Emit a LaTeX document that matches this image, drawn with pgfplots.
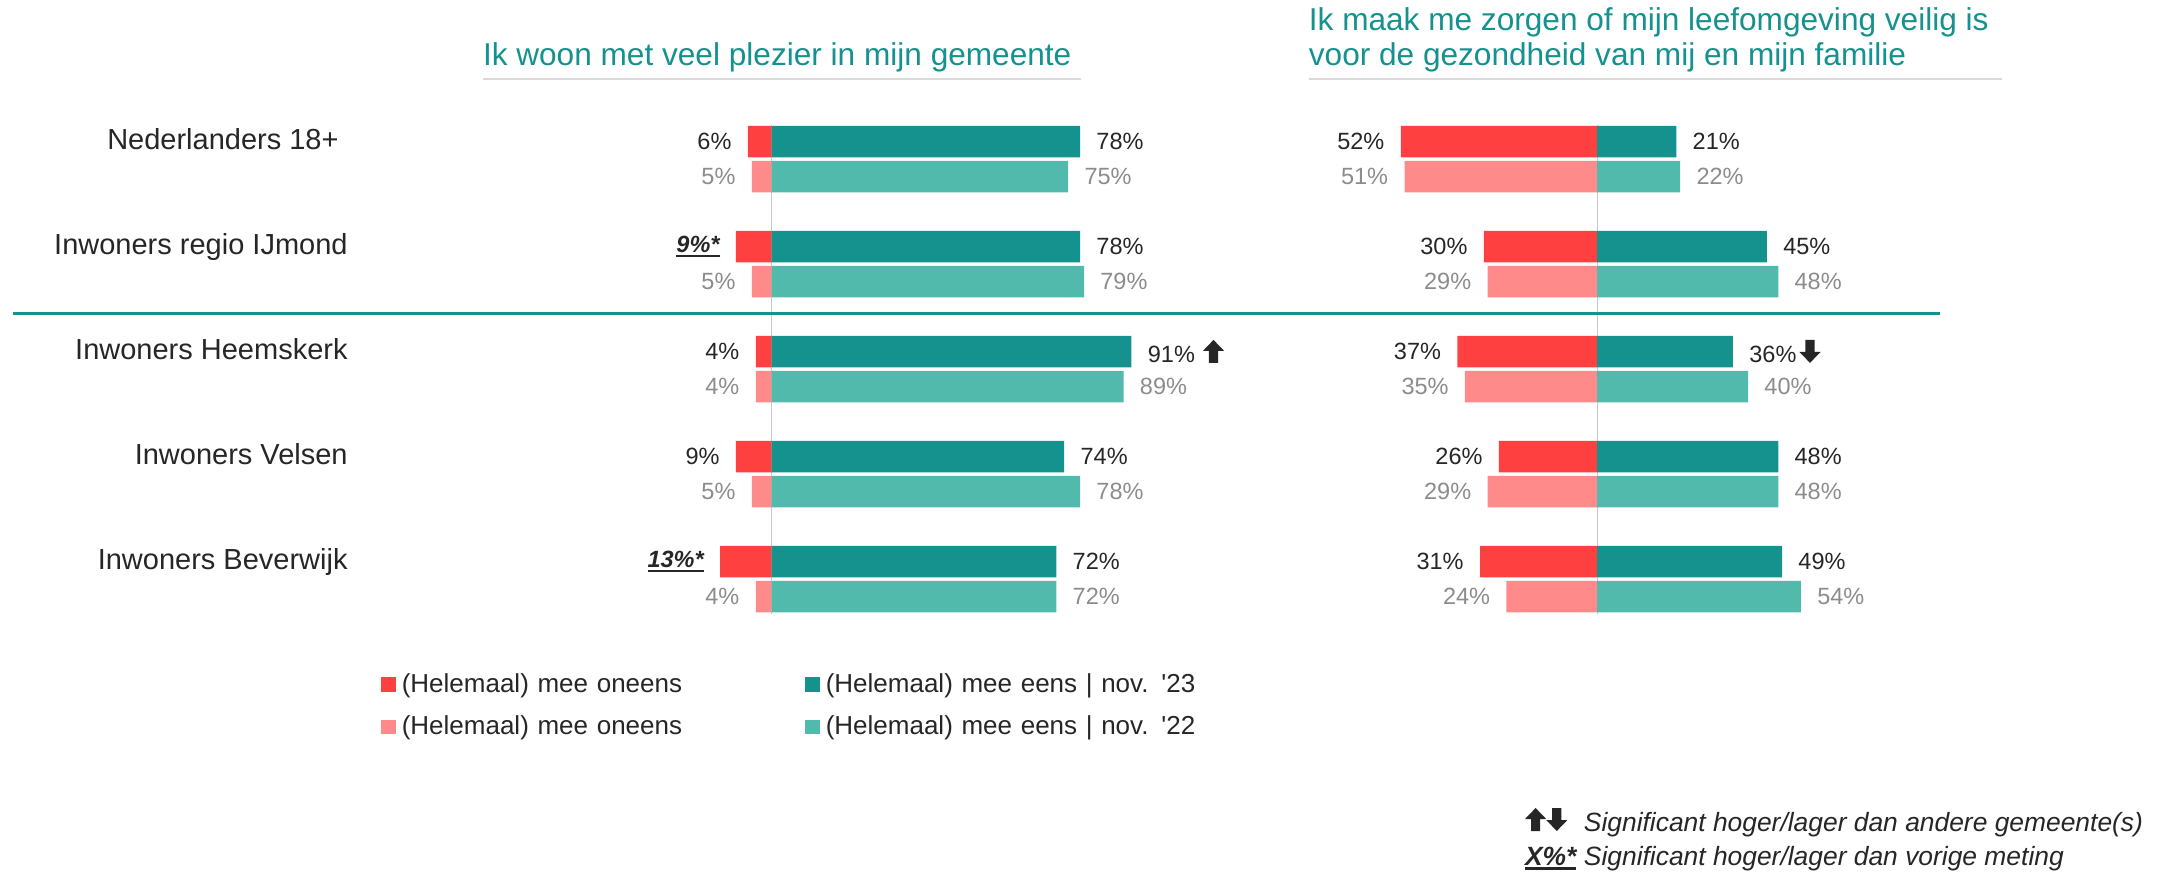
\documentclass[border=0pt]{standalone}
\usepackage{pgfplots}
\pgfplotsset{compat=1.18}
\usepackage{fontspec}
\setmainfont{Liberation Sans}
\definecolor{negA}{HTML}{FF4040}
\definecolor{negB}{HTML}{FF8A8A}
\definecolor{posA}{HTML}{15918E}
\definecolor{posB}{HTML}{52BAAC}
\definecolor{txt}{HTML}{262626}
\definecolor{txtg}{HTML}{8C8C8C}
\definecolor{rulec}{HTML}{D9D9D9}
\definecolor{zeroc}{HTML}{C8C8C8}
\protected\def\sig#1{\setbox0\hbox{\bfseries\itshape #1}\rlap{\rule[-2.3pt]{\wd0}{1.1pt}}\box0}
\protected\def\uparr{\tikz[baseline=0pt]\fill[txt] (-2.3pt,0pt) -- (2.3pt,0pt) -- (2.3pt,6pt) -- (5.3pt,6pt) -- (0pt,11.5pt) -- (-5.3pt,6pt) -- (-2.3pt,6pt) -- cycle;}
\protected\def\downarr{\tikz[baseline=0pt]\fill[txt] (-2.3pt,11.5pt) -- (2.3pt,11.5pt) -- (2.3pt,5.5pt) -- (5.3pt,5.5pt) -- (0pt,0pt) -- (-5.3pt,5.5pt) -- (-2.3pt,5.5pt) -- cycle;}
\tikzset{vlbl/.style={font=\fontsize{11.75}{14}\selectfont, inner sep=0pt}}
\pgfplotsset{
  panel/.style={at={(0,0)}, anchor=north west, scale only axis,
    width=1086pt, height=436.5pt, ymin=-1.3476, ymax=6.9667,
    y dir=reverse, hide axis, clip=false},
  negbar/.style={xbar, bar shift=0pt, bar width=0.3, draw=none,
    point meta=explicit symbolic, nodes near coords,
    nodes near coords style={vlbl, anchor=east, xshift=-8pt}},
  posbar/.style={xbar, bar shift=0pt, bar width=0.3, draw=none,
    point meta=explicit symbolic, nodes near coords,
    nodes near coords style={vlbl, anchor=west, xshift=8pt}},
}
\begin{document}
\begin{tikzpicture}[x=0.5pt, y=-0.5pt]
\path[use as bounding box] (0,0) rectangle (2172,873);
% ---------- left panel ----------
\begin{axis}[panel, xmin=-195.1, xmax=354.1,
  legend columns=2, legend cell align=left,
  legend style={at={(0.17541,0.22486)}, anchor=north west, draw=none, fill=none,
    inner sep=0pt, outer sep=0pt, font=\fontsize{13}{15}\selectfont, text=txt,
    column sep=3.15pt, row sep=13.45pt,
    nodes={inner sep=0pt, text height=7.8pt, text depth=0pt, text width=198.45pt, align=left}}]
\addplot[draw=zeroc, line width=0.5pt, forget plot] coordinates {(0,-0.16) (0,4.5)};
\addplot[negbar, fill=negA, nodes near coords style={text=txt},
  legend image code/.code={\fill[negA] (0pt,-3.625pt) rectangle (7.25pt,3.625pt);}]
  coordinates {(-6,0) [6\%] (-9,1) [\sig{9\%*}] (-4,2) [4\%] (-9,3) [9\%] (-13,4) [\sig{13\%*}]};
\addlegendentry{(Helemaal) mee oneens}
\addplot[posbar, fill=posA, nodes near coords style={text=txt},
  legend image code/.code={\fill[posA] (0pt,-3.625pt) rectangle (7.25pt,3.625pt);}]
  coordinates {(78,0) [78\%] (78,1) [78\%] (91,2) [91\%\hspace{4pt}\uparr] (74,3) [74\%] (72,4) [72\%]};
\addlegendentry{(Helemaal) mee eens | nov. \textquotesingle 23}
\addplot[negbar, fill=negB, nodes near coords style={text=txtg},
  legend image code/.code={\fill[negB] (0pt,-3.625pt) rectangle (7.25pt,3.625pt);}]
  coordinates {(-5,0.3333) [5\%] (-5,1.3333) [5\%] (-4,2.3333) [4\%] (-5,3.3333) [5\%] (-4,4.3333) [4\%]};
\addlegendentry{(Helemaal) mee oneens}
\addplot[posbar, fill=posB, nodes near coords style={text=txtg},
  legend image code/.code={\fill[posB] (0pt,-3.625pt) rectangle (7.25pt,3.625pt);}]
  coordinates {(75,0.3333) [75\%] (79,1.3333) [79\%] (89,2.3333) [89\%] (78,3.3333) [78\%] (72,4.3333) [72\%]};
\addlegendentry{(Helemaal) mee eens | nov. \textquotesingle 22}
\end{axis}
% ---------- right panel ----------
\begin{axis}[panel, xmin=-423.05, xmax=152.3]
\addplot[draw=zeroc, line width=0.5pt, forget plot] coordinates {(0,-0.16) (0,4.5)};
\addplot[negbar, fill=negA, nodes near coords style={text=txt}]
  coordinates {(-52,0) [52\%] (-30,1) [30\%] (-37,2) [37\%] (-26,3) [26\%] (-31,4) [31\%]};
\addplot[posbar, fill=posA, nodes near coords style={text=txt}]
  coordinates {(21,0) [21\%] (45,1) [45\%] (36,2) [36\%\hspace{1.5pt}\downarr] (48,3) [48\%] (49,4) [49\%]};
\addplot[negbar, fill=negB, nodes near coords style={text=txtg}]
  coordinates {(-51,0.3333) [51\%] (-29,1.3333) [29\%] (-35,2.3333) [35\%] (-29,3.3333) [29\%] (-24,4.3333) [24\%]};
\addplot[posbar, fill=posB, nodes near coords style={text=txtg}]
  coordinates {(22,0.3333) [22\%] (48,1.3333) [48\%] (40,2.3333) [40\%] (48,3.3333) [48\%] (54,4.3333) [54\%]};
\end{axis}
% ---------- titles and rules ----------
\begin{scope}[every node/.style={inner sep=0pt, anchor=base west, text=posA, font=\fontsize{15.8}{18}\selectfont}]
\node at (482.6,65) {Ik woon met veel plezier in mijn gemeente};
\node at (1308.5,30) {Ik maak me zorgen of mijn leefomgeving veilig is};
\node at (1308.5,65) {voor de gezondheid van mij en mijn familie};
\end{scope}
\draw[rulec, line width=1.3pt] (482.6,79) -- (1081,79);
\draw[rulec, line width=1.3pt] (1308.5,79) -- (2002,79);
\draw[posA, line width=1.3pt] (12.6,313.3) -- (1939.5,313.3);
% ---------- category labels ----------
\begin{scope}[every node/.style={inner sep=0pt, anchor=base east, text=txt, font=\fontsize{14.5}{17}\selectfont}]
\node at (339,149.5) {Nederlanders 18+};
\node at (348,254.5) {Inwoners regio IJmond};
\node at (348,359.5) {Inwoners Heemskerk};
\node at (348,464.5) {Inwoners Velsen};
\node at (348,569.5) {Inwoners Beverwijk};
\end{scope}
% ---------- footnote ----------
\begin{scope}[every node/.style={inner sep=0pt, anchor=base west, text=txt, font=\fontsize{13.2}{16}\selectfont\itshape}]
\node at (1524.6,831) {\uparr\downarr};
\node at (1583.5,831) {Significant hoger/lager dan andere gemeente(s)};
\node at (1524.6,865) {\sig{X\%*}};
\node at (1583.5,865) {Significant hoger/lager dan vorige meting};
\end{scope}
\end{tikzpicture}
\end{document}
